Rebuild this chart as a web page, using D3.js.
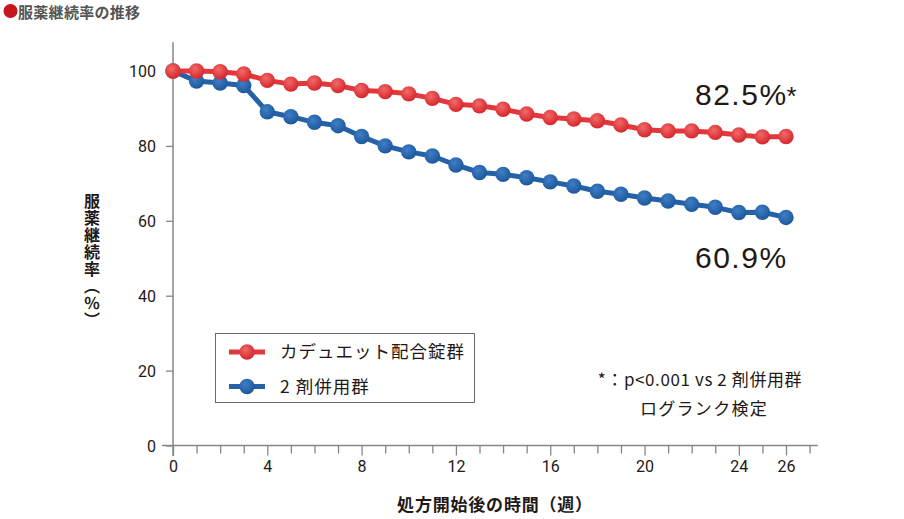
<!DOCTYPE html>
<html><head><meta charset="utf-8">
<script src="https://cdn.jsdelivr.net/npm/d3@7/dist/d3.min.js"></script>
<style>
body{margin:0;background:#fff;}
svg{display:block;font-family:"Noto Sans CJK JP","Noto Sans",sans-serif;}
</style></head>
<body><svg id="c" width="904" height="519"></svg>
<script>
const weeks = d3.range(0, 27);
const cadueSeries = [100, 100, 99.8, 99.2, 97.5, 96.5, 96.8, 96.1, 94.8, 94.5, 93.9, 92.7, 91.1, 90.7, 89.8, 88.5, 87.6, 87.2, 86.7, 85.6, 84.3, 84.0, 84.0, 83.6, 82.9, 82.4, 82.5];
const comboSeries = [100, 97.3, 96.8, 96.1, 89.1, 87.8, 86.3, 85.4, 82.5, 80.0, 78.4, 77.3, 74.9, 72.9, 72.4, 71.5, 70.4, 69.3, 67.9, 67.1, 66.1, 65.3, 64.4, 63.6, 62.2, 62.3, 60.9];
const seriesNames = ["カデュエット配合錠群", "2 剤併用群"];
const xTickLabels = [0, 4, 8, 12, 16, 20, 24, 26];
const yTickLabels = [0, 20, 40, 60, 80, 100];
const endLabels = ["82.5%", "60.9%"];

const svg = d3.select("#c");
const x = d3.scaleLinear().domain([0, 26]).range([173, 786]);
const y = d3.scaleLinear().domain([0, 100]).range([445.5, 71]);
const txt = "#231815", axisCol = "#8a8585";

// gradients
const defs = svg.append("defs");
function grad(id, c1, c2){
  const g = defs.append("radialGradient").attr("id", id).attr("cx","40%").attr("cy","35%").attr("r","65%");
  g.append("stop").attr("offset","0%").attr("stop-color", c1);
  g.append("stop").attr("offset","100%").attr("stop-color", c2);
}
grad("gr", "#f06a6a", "#d8262b");
grad("gb", "#3f7fc6", "#1d589b");
const colors = [{line:"#e2383b", fill:"url(#gr)"}, {line:"#2461a6", fill:"url(#gb)"}];

// title
svg.append("circle").attr("cx", 10.5).attr("cy", 11).attr("r", 7).attr("fill", "#c8161d");
svg.append("text").attr("x", 18).attr("y", 17.5).attr("font-size", 15).attr("font-weight", "bold")
  .style("letter-spacing", "0.3px").attr("fill", "#555").text("服薬継続率の推移");

// y axis
const yAxis = d3.axisLeft(y).tickValues(yTickLabels).tickSize(7).tickPadding(10);
const gy = svg.append("g").attr("transform", "translate(173,0)").call(yAxis);
gy.select(".domain").remove();
gy.selectAll(".tick line").attr("stroke", axisCol).attr("stroke-width", 1.3);
gy.selectAll(".tick text").attr("font-size", 16).attr("fill", txt).attr("font-family", "Roboto, sans-serif").attr("dy", "0.35em");
svg.append("line").attr("x1", 173).attr("x2", 173).attr("y1", y(107.7)).attr("y2", 456)
  .attr("stroke", axisCol).attr("stroke-width", 1.5);

// x axis
const gx = svg.append("g").attr("transform", "translate(0,445.5)")
  .call(d3.axisBottom(x).tickValues(d3.range(0, 28)).tickSize(8).tickPadding(7)
    .tickFormat(d => xTickLabels.includes(d) ? d : ""));
gx.select(".domain").remove();
gx.selectAll(".tick line").attr("stroke", axisCol).attr("stroke-width", 1.3)
  .attr("y2", d => xTickLabels.includes(d) ? 10 : 8);
gx.selectAll(".tick text").attr("font-size", 16).attr("fill", txt).attr("font-family", "Roboto, sans-serif");
svg.append("line").attr("x1", x(-0.47)).attr("x2", x(27.35)).attr("y1", 445.5).attr("y2", 445.5)
  .attr("stroke", axisCol).attr("stroke-width", 1.5);

// series
const allSeries = [cadueSeries, comboSeries];
const line = d3.line().x((d, i) => x(weeks[i])).y(d => y(d));
[1, 0].forEach(si => {
  const data = allSeries[si];
  svg.append("path").datum(data).attr("d", line).attr("fill", "none")
    .attr("stroke", colors[si].line).attr("stroke-width", 5).attr("stroke-linejoin", "round");
  svg.append("g").selectAll("circle").data(data).join("circle")
    .attr("cx", (d, i) => x(weeks[i])).attr("cy", d => y(d)).attr("r", 7.7)
    .attr("fill", colors[si].fill);
});

// end labels
const big = "'Liberation Sans', Arial, sans-serif";
const t1 = svg.append("text").attr("x", 695).attr("y", 105).attr("font-size", 30).attr("fill", txt)
  .attr("font-family", big).style("letter-spacing", "1.5px");
t1.append("tspan").text(endLabels[0]);
t1.append("tspan").attr("font-size", 26).attr("dx", -1).text("*");
svg.append("text").attr("x", 695).attr("y", 267.5).attr("font-size", 30).attr("fill", txt)
  .attr("font-family", big).style("letter-spacing", "1.5px").text(endLabels[1]);

// legend
svg.append("rect").attr("x", 215.5).attr("y", 333.5).attr("width", 259).attr("height", 69)
  .attr("fill", "#fff").attr("stroke", "#6b6b6b").attr("stroke-width", 1);
seriesNames.forEach((n, i) => {
  const ly = 352 + i * 34.5;
  svg.append("line").attr("x1", 229).attr("x2", 265).attr("y1", ly).attr("y2", ly)
    .attr("stroke", colors[i].line).attr("stroke-width", 5);
  svg.append("circle").attr("cx", 247).attr("cy", ly).attr("r", 7.7).attr("fill", colors[i].fill);
  svg.append("text").attr("x", 280).attr("y", ly).attr("dy", "0.36em").attr("font-size", 17.5)
    .style("letter-spacing", "1px").attr("fill", txt).text(n);
});

// footnote
svg.append("text").attr("x", 700).attr("y", 380).attr("dy", "0.36em").attr("text-anchor", "middle")
  .attr("font-size", 17).style("letter-spacing", "0.6px").attr("fill", txt).text("*：p<0.001 vs 2 剤併用群");
svg.append("text").attr("x", 704).attr("y", 409).attr("dy", "0.36em").attr("text-anchor", "middle")
  .attr("font-size", 17).style("letter-spacing", "1.3px").attr("fill", txt).text("ログランク検定");

// axis titles
svg.append("text").attr("x", 92).attr("y", 193).attr("font-size", 16).attr("font-weight", "bold")
  .attr("fill", txt).style("writing-mode", "vertical-rl").style("letter-spacing", "1px").text("服薬継続率（％）");
svg.append("text").attr("x", 495).attr("y", 505).attr("dy", "0.36em").attr("text-anchor", "middle")
  .attr("font-size", 17).style("letter-spacing", "0.8px").attr("font-weight", "bold").attr("fill", txt).text("処方開始後の時間（週）");
</script></body></html>
